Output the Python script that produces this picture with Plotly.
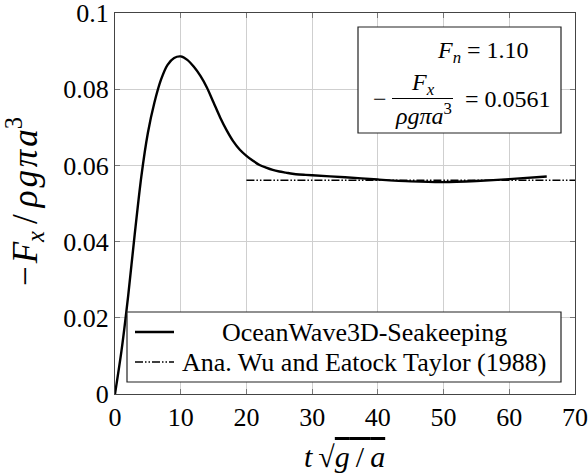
import plotly.graph_objects as go

# ---------------- data ----------------
t_sim = [0, 1, 2, 3, 4, 5, 6, 7, 8, 9, 10, 11, 12, 13, 14, 15, 16, 17, 18, 19,
         20, 21, 22, 23, 24, 25, 26, 27, 28, 29, 30, 35, 40, 45, 50, 55, 60, 65.7]
f_sim = [0, 0.0115, 0.0257, 0.0419, 0.0570, 0.0685, 0.0765, 0.0825, 0.0864, 0.0882,
         0.0886, 0.0877, 0.0859, 0.0835, 0.0804, 0.0765, 0.0726, 0.0692, 0.0663, 0.0641,
         0.0625, 0.0612, 0.0601, 0.0594, 0.0588, 0.0584, 0.0581, 0.0578, 0.0576, 0.0575,
         0.0574, 0.0569, 0.0563, 0.0558, 0.0556, 0.0559, 0.0564, 0.0571]
t_ana = [20, 70]
f_ana = [0.0561, 0.0561]

x_tickvals = [0, 10, 20, 30, 40, 50, 60, 70]
x_ticktext = ["0", "10", "20", "30", "40", "50", "60", "70"]
y_tickvals = [0, 0.02, 0.04, 0.06, 0.08, 0.1]
y_ticktext = ["0", "0.02", "0.04", "0.06", "0.08", "0.1"]

legend_names = ["OceanWave3D-Seakeeping", "Ana. Wu and Eatock Taylor (1988)"]

# ---------------- layout helpers ----------------
FONT = "Liberation Serif, Times New Roman, serif"
W, H = 588, 475
L, R, T, B = 115, 13, 13, 81
PW, PH = W - L - R, H - T - B


def px(x):
    return (x - L) / PW


def py(y):
    return (H - B - y) / PH


DASHDOTDOT = "8px,2px,1.5px,2px,1.5px,2px"
TS = "\u2009"  # thin space
HS = "\u200a"  # hair space

fig = go.Figure()
fig.add_trace(go.Scatter(x=t_sim, y=f_sim, mode="lines", name=legend_names[0],
                         line=dict(color="black", width=2.4, shape="spline", smoothing=0.8),
                         showlegend=False))
fig.add_trace(go.Scatter(x=t_ana, y=f_ana, mode="lines", name=legend_names[1],
                         line=dict(color="black", width=1.6, dash=DASHDOTDOT),
                         showlegend=False))

axis_common = dict(showgrid=True, gridcolor="#cfcfcf", gridwidth=1, automargin=False,
                   showline=True, linecolor="#444444", linewidth=1.2, mirror="ticks",
                   ticks="inside", ticklen=5, tickcolor="#777777", tickwidth=1,
                   ticklabeloverflow="allow",
                   zeroline=False, tickfont=dict(family=FONT, size=26, color="black"))

fig.update_layout(
    width=W, height=H,
    margin=dict(l=L, r=R, t=T, b=B, autoexpand=False),
    paper_bgcolor="white", plot_bgcolor="white",
    xaxis=dict(range=[0, 70], tickvals=x_tickvals, ticktext=x_ticktext, **axis_common),
    yaxis=dict(range=[0, 0.1], tickvals=y_tickvals, ticktext=y_ticktext, **axis_common),
    showlegend=False,
)

shapes = []
annotations = []

# Legend box (manual, to get centred labels)
shapes.append(dict(type="rect", xref="paper", yref="paper",
                   x0=px(127), x1=px(561), y0=py(382), y1=py(312),
                   line=dict(color="#222222", width=1.2), fillcolor="white", layer="above"))
shapes.append(dict(type="line", xref="paper", yref="paper",
                   x0=px(135), x1=px(174), y0=py(332), y1=py(332),
                   line=dict(color="black", width=2.4), layer="above"))
shapes.append(dict(type="line", xref="paper", yref="paper",
                   x0=px(135), x1=px(174), y0=py(362), y1=py(362),
                   line=dict(color="black", width=1.6, dash=DASHDOTDOT), layer="above"))
annotations.append(dict(xref="paper", yref="paper", x=px(364), y=py(332),
                        text=legend_names[0], showarrow=False, xanchor="center", yanchor="middle",
                        font=dict(family=FONT, size=26, color="black")))
annotations.append(dict(xref="paper", yref="paper", x=px(364), y=py(362),
                        text=legend_names[1], showarrow=False, xanchor="center", yanchor="middle",
                        font=dict(family=FONT, size=26, color="black")))

# Info box
shapes.append(dict(type="rect", xref="paper", yref="paper",
                   x0=px(358), x1=px(561), y0=py(133), y1=py(27),
                   line=dict(color="#222222", width=1.2), fillcolor="white", layer="above"))
BOXF = dict(family=FONT, size=24, color="black")
annotations.append(dict(xref="paper", yref="paper", x=px(531), y=py(52),
                        text="<i>F</i><sub><i>n</i></sub> = 1.10", showarrow=False,
                        xanchor="right", yanchor="middle", font=BOXF))
annotations.append(dict(xref="paper", yref="paper", x=px(380), y=py(99),
                        text="−", showarrow=False, xanchor="center", yanchor="middle", font=BOXF))
annotations.append(dict(xref="paper", yref="paper", x=px(423), y=py(84),
                        text="<i>F</i><sub><i>x</i></sub>", showarrow=False,
                        xanchor="center", yanchor="middle", font=BOXF))
shapes.append(dict(type="line", xref="paper", yref="paper",
                   x0=px(392), x1=px(453), y0=py(98.5), y1=py(98.5),
                   line=dict(color="black", width=1), layer="above"))
annotations.append(dict(xref="paper", yref="paper", x=px(423), y=py(114),
                        text="<i>ρgπa</i><sup>3</sup>", showarrow=False,
                        xanchor="center", yanchor="middle", font=BOXF))
annotations.append(dict(xref="paper", yref="paper", x=px(553), y=py(99),
                        text="= 0.0561", showarrow=False,
                        xanchor="right", yanchor="middle", font=BOXF))

# Axis titles
annotations.append(dict(xref="paper", yref="paper", x=px(24), y=py(202),
                        text=("−" + HS + "<i>F</i><sub><i>x</i></sub>" + TS + "/" + TS +
                              "<i>ρ" + HS + "g" + HS + "π" + HS + "a</i><sup>3</sup>"),
                        textangle=-90, showarrow=False, xanchor="center", yanchor="middle",
                        font=dict(family=FONT, size=35, color="black")))
annotations.append(dict(xref="paper", yref="paper", x=px(344), y=py(456),
                        text=("<i>t</i>" + TS + "√<span style='text-decoration:overline'><i>g</i>"
                              + TS + "/" + TS + "<i>a</i></span>"),
                        showarrow=False, xanchor="center", yanchor="middle",
                        font=dict(family=FONT, size=30, color="black")))

fig.update_layout(shapes=shapes, annotations=annotations)
fig.write_html("out.html")
